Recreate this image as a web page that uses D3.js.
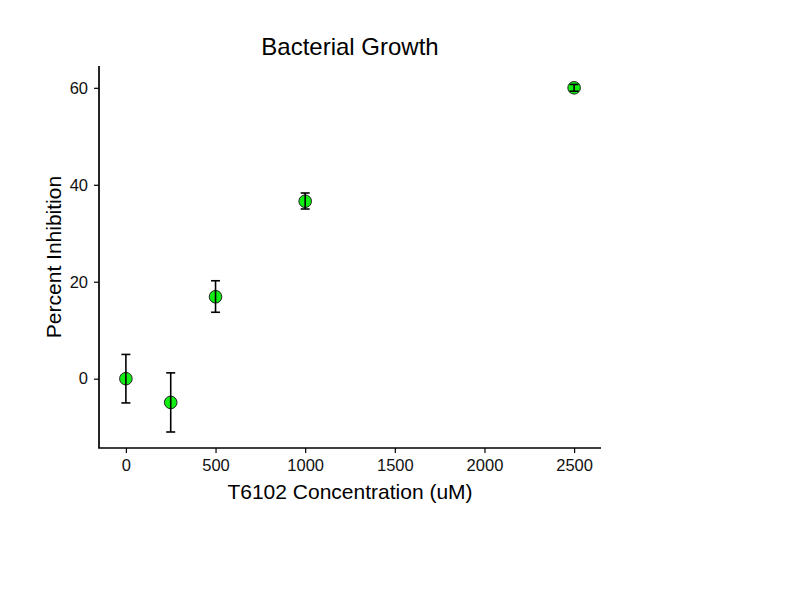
<!DOCTYPE html>
<html>
<head>
<meta charset="utf-8">
<script src="https://cdn.jsdelivr.net/npm/d3@7"></script>
<style>
  body { margin: 0; background: #fff; }
  svg { font-family: "Liberation Sans", Arial, sans-serif; }
</style>
</head>
<body>
<svg id="chart" width="792" height="590"></svg>
<script>
// concentrations (uM) and percent inhibition with error bar bounds
var conc = [0, 250, 500, 1000, 2500];
var inhibition = [0, -4.9, 16.9, 36.6, 60.0];
var errLow = [-5.0, -11.0, 13.7, 35.0, 59.3];
var errHigh = [5.0, 1.2, 20.2, 38.3, 60.7];
var xTicks = [0, 500, 1000, 1500, 2000, 2500];
var yTicks = [0, 20, 40, 60];

var svg = d3.select("#chart");
var padL = 99, padR = 601, padT = 66, padB = 448;

var x = d3.scaleLinear().domain([-150, 2650]).range([padL, padR]);
var y = d3.scaleLinear().domain([-14.3, 64.5]).range([padB, padT]);

// axes
var xAxis = svg.append("g")
  .attr("transform", "translate(0," + padB + ")")
  .call(d3.axisBottom(x).tickValues(xTicks).tickFormat(d3.format("d")).tickSizeOuter(0).tickSize(5).tickPadding(6));
var yAxis = svg.append("g")
  .attr("transform", "translate(" + padL + ",0)")
  .call(d3.axisLeft(y).tickValues(yTicks).tickFormat(d3.format("d")).tickSizeOuter(0).tickSize(5).tickPadding(6));

[xAxis, yAxis].forEach(function(a) {
  a.select(".domain").remove();
  a.selectAll(".tick line").attr("stroke", "#000").attr("stroke-width", 1.2);
  a.selectAll(".tick text").attr("fill", "#111").style("font-size", "16.5px")
    .style("font-family", "Liberation Sans, Arial, sans-serif");
});

// axis lines joined at the corner
svg.append("path")
  .attr("d", "M" + padL + "," + padT + "V" + padB + "H" + padR)
  .attr("fill", "none").attr("stroke", "#000").attr("stroke-width", 1.7);

// points
svg.append("g").selectAll("circle")
  .data(conc)
  .enter().append("circle")
  .attr("cx", function(d) { return x(d); })
  .attr("cy", function(d, i) { return y(inhibition[i]); })
  .attr("r", 6.3)
  .attr("fill", "#11ee11")
  .attr("stroke", "#222")
  .attr("stroke-width", 1);

// error bars, drawn over the points
var eb = svg.append("g").attr("stroke", "#000").attr("stroke-width", 1.6);
conc.forEach(function(c, i) {
  var cx = x(c);
  eb.append("line").attr("x1", cx).attr("x2", cx).attr("y1", y(errLow[i])).attr("y2", y(errHigh[i]));
  eb.append("line").attr("x1", cx - 4.5).attr("x2", cx + 4.5).attr("y1", y(errLow[i])).attr("y2", y(errLow[i]));
  eb.append("line").attr("x1", cx - 4.5).attr("x2", cx + 4.5).attr("y1", y(errHigh[i])).attr("y2", y(errHigh[i]));
});

// titles
svg.append("text")
  .attr("x", (padL + padR) / 2).attr("y", 55)
  .attr("text-anchor", "middle")
  .style("font-size", "24px").attr("fill", "#000")
  .text("Bacterial Growth");

svg.append("text")
  .attr("x", (padL + padR) / 2).attr("y", 499)
  .attr("text-anchor", "middle")
  .style("font-size", "21px").attr("fill", "#000")
  .text("T6102 Concentration (uM)");

svg.append("text")
  .attr("transform", "translate(61," + (padT + padB) / 2 + ") rotate(-90)")
  .attr("text-anchor", "middle")
  .style("font-size", "21px").attr("fill", "#000")
  .text("Percent Inhibition");
</script>
</body>
</html>
